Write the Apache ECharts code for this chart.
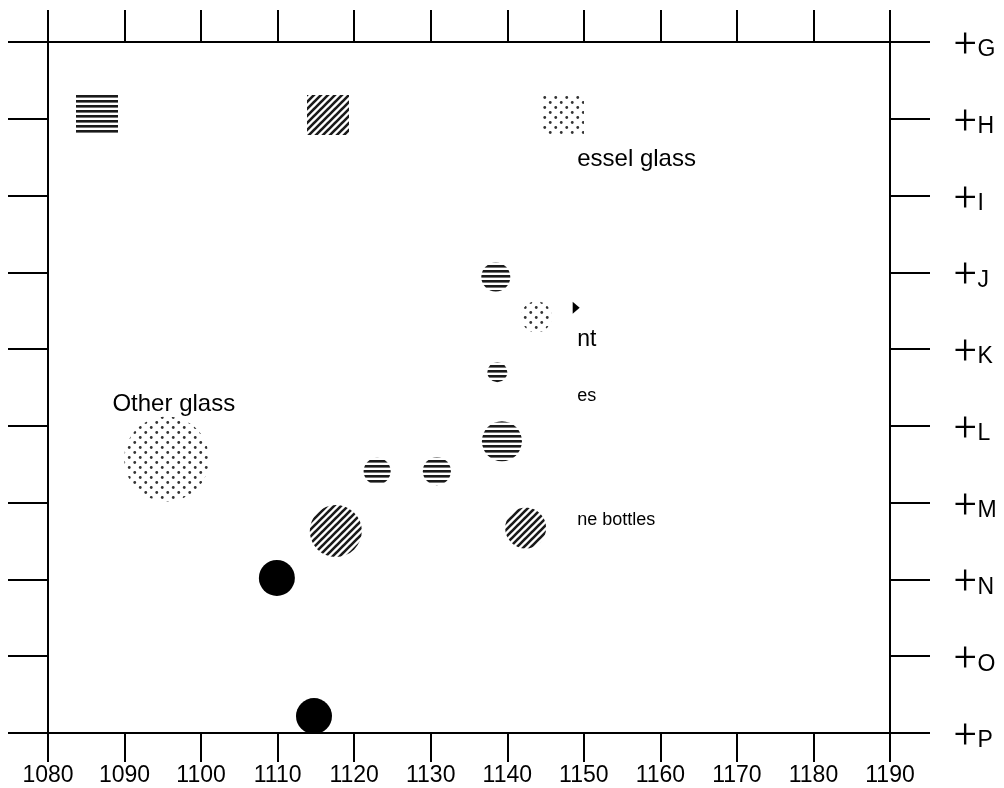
<!DOCTYPE html>
<html><head><meta charset="utf-8">
<script src="https://cdn.jsdelivr.net/npm/echarts@6/dist/echarts.min.js"></script>
<style>html,body{margin:0;padding:0;background:#fff}#c{width:1004px;height:788px}</style>
</head><body><div id="c"></div>
<script>
// ---- data ----
const xMin = 1080, xMax = 1190, xStep = 10;
const rowLabels = ['G','H','I','J','K','L','M','N','O','P'];
const seriesNames = ['Window glass', 'Vessel glass', 'Other glass', 'Black glass'];
// [x, row position (0 = G ... 9 = P), count]
const stripedPoints = [[1138.5, 3.06, 29], [1138.7, 4.30, 20], [1139.3, 5.20, 40], [1123.0, 5.59, 27], [1130.8, 5.59, 28]];
const hatchedPoints = [[1117.6, 6.37, 52], [1142.4, 6.33, 41]];
const dottedPoints = [[1143.8, 3.58, 31], [1095.5, 5.43, 85]];
const blackPoints = [[1109.9, 6.98, 36], [1114.75, 8.78, 36]];
const labelTexts = ['essel glass', 'nt', 'es', 'ne bottles', 'Other glass'];
const labelPoints = [[1149.2, 1.54], [1149.2, 3.88], [1149.2, 4.62], [1149.2, 6.23], [1096.5, 4.72]];
const arrowPoints = [[1149.0, 3.46]];

// ---- styles ----
const labelFontSizes = [24, 23, 18, 18, 24];
const labelAligns = ['left', 'left', 'left', 'left', 'center'];
const FONT = 'Liberation Sans, Arial, sans-serif';

function makeTile(kind) {
  const c = document.createElement('canvas');
  let ctx;
  if (kind === 'stripes') {
    c.width = 8; c.height = 5; ctx = c.getContext('2d');
    ctx.fillStyle = '#1a1a1a'; ctx.fillRect(0, 0, 8, 2.6);
  } else if (kind === 'hatch') {
    const s = 7; c.width = s; c.height = s; ctx = c.getContext('2d');
    ctx.strokeStyle = '#1a1a1a'; ctx.lineWidth = 2.6; ctx.lineCap = 'square';
    for (let k = -1; k <= 1; k++) { ctx.beginPath(); ctx.moveTo(k * s, s); ctx.lineTo(k * s + s, 0); ctx.stroke(); }
  } else {
    c.width = 11; c.height = 10; ctx = c.getContext('2d');
    ctx.fillStyle = '#333';
    [[2.75, 2.5], [8.25, 7.5]].forEach(p => { ctx.beginPath(); ctx.arc(p[0], p[1], 1.4, 0, Math.PI * 2); ctx.fill(); });
  }
  return {image: c, repeat: 'repeat'};
}
const fills = [makeTile('stripes'), makeTile('hatch'), makeTile('dots')];

const chart = echarts.init(document.getElementById('c'), null, {renderer: 'canvas'});
const axisLine = {show: true, onZero: false, lineStyle: {color: '#000', width: 2}};
const tickStyle = {color: '#000', width: 2};

function patternSeries(name, pts, fill) {
  return {
    name: name, type: 'custom',
    encode: {x: 0, y: 1},
    itemStyle: {color: fill},
    renderItem: (params, api) => {
      const p = api.coord([api.value(0), api.value(1)]);
      return {type: 'circle', shape: {cx: p[0], cy: p[1], r: api.value(2) / 2},
              style: {fill: fill, stroke: null}};
    },
    data: pts, z: 3
  };
}

const legendLefts = [76, 307, 542];
const legends = seriesNames.slice(0, 3).map((n, i) => ({
  left: legendLefts[i], top: 95, padding: 0, itemWidth: 42, itemHeight: 40, icon: 'rect',
  formatter: () => '', selectedMode: false,
  data: [{name: n, icon: 'rect', itemStyle: {color: fills[i], opacity: 1}}]
}));

const option = {
  animation: false,
  backgroundColor: '#fff',
  textStyle: {fontFamily: FONT},
  legend: legends,
  grid: {left: 48, right: 114, top: 42, bottom: 55, containLabel: false},
  xAxis: [
    {type: 'value', position: 'bottom', min: xMin, max: xMax, interval: xStep,
     axisLine: axisLine, axisTick: {show: true, length: 29, lineStyle: tickStyle},
     axisLabel: {show: true, margin: 31, fontSize: 23, color: '#000', fontFamily: FONT, formatter: v => String(v)},
     splitLine: {show: false}},
    {type: 'value', position: 'top', min: xMin, max: xMax, interval: xStep,
     axisLine: axisLine, axisTick: {show: true, length: 32, lineStyle: tickStyle},
     axisLabel: {show: false}, splitLine: {show: false}}
  ],
  yAxis: [
    {type: 'value', position: 'left', min: 0, max: rowLabels.length - 1, interval: 1, inverse: true,
     axisLine: axisLine, axisTick: {show: true, length: 40, lineStyle: tickStyle},
     axisLabel: {show: false}, splitLine: {show: false}},
    {type: 'value', position: 'right', min: 0, max: rowLabels.length - 1, interval: 1, inverse: true,
     axisLine: axisLine, axisTick: {show: true, length: 40, lineStyle: tickStyle},
     axisLabel: {show: true, margin: 64, color: '#000',
       formatter: v => '{c|+}{t|' + rowLabels[Math.round(v)] + '}',
       rich: {
         c: {fontSize: 40, fontFamily: 'Roboto', fontWeight: 300, color: '#000', lineHeight: 30, padding: [10, 0, 0, 0]},
         t: {fontSize: 23, fontFamily: FONT, color: '#000', padding: [16, 0, 0, 1]}
       }},
     splitLine: {show: false}}
  ],
  series: [
    patternSeries(seriesNames[0], stripedPoints, fills[0]),
    patternSeries(seriesNames[1], hatchedPoints, fills[1]),
    patternSeries(seriesNames[2], dottedPoints, fills[2]),
    {name: seriesNames[3], type: 'scatter', symbol: 'circle', symbolSize: v => v[2],
     itemStyle: {color: '#000', opacity: 1}, data: blackPoints, z: 4},
    {name: 'labels', type: 'scatter', symbolSize: 1, itemStyle: {color: 'rgba(0,0,0,0)', opacity: 1}, z: 5,
     silent: true,
     data: labelPoints.map((p, i) => ({
       value: p,
       label: {show: true, position: [0, 0], formatter: labelTexts[i], fontSize: labelFontSizes[i],
               align: labelAligns[i], verticalAlign: 'middle', color: '#000', fontFamily: FONT}
     }))},
    {name: 'arrow', type: 'scatter', symbol: 'triangle', symbolRotate: -90, symbolSize: [12, 7],
     itemStyle: {color: '#000', opacity: 1}, data: arrowPoints, z: 5, silent: true}
  ]
};
chart.setOption(option);
</script>
</body></html>
